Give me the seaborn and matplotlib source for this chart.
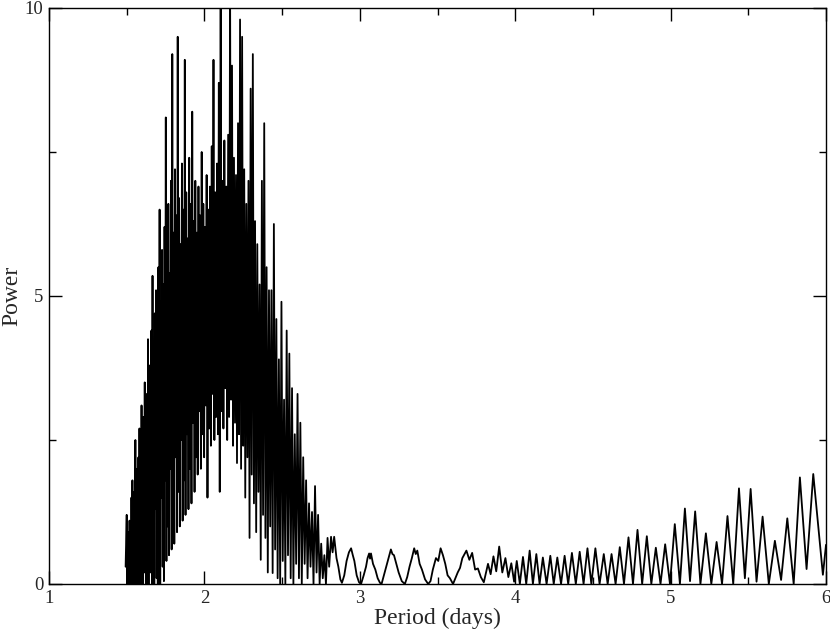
import numpy as np
import pandas as pd
import matplotlib
matplotlib.use("Agg")
import matplotlib.pyplot as plt
import seaborn as sns
from matplotlib.ticker import MultipleLocator

# ---------------- data ----------------
# Dense part of the periodogram: peaks and troughs sampled on the
# periodogram's uniform frequency grid starting at period 1.50 d.
DENSE_START_PERIOD = 1.50
DENSE_FREQ_STEP = 0.00266
start_period = [1.493]
start_power = [0.3]

dense_peak_power = [
    1.2, 0.5, 0.9, 1.1, 0.7, 1.5, 1.8, 1.0, 1.6, 2.5,
    2.0, 1.4, 2.2, 2.7, 1.9, 3.1, 2.4, 2.9, 3.5, 2.6,
    3.3, 4.25, 3.0, 3.8, 4.4, 5.35, 3.9, 4.7, 5.1, 4.3,
    5.5, 6.5, 4.9, 5.8, 5.2, 6.2, 8.1, 5.6, 6.6, 5.4,
    7.0, 9.2, 6.1, 7.2, 6.4, 9.5, 6.7, 5.9, 7.3, 6.5,
    9.1, 6.8, 6.0, 7.4, 6.6, 8.2, 6.3, 7.0, 6.1, 6.9,
    6.4, 7.5, 6.6, 6.2, 7.1, 6.5, 6.9, 7.6, 9.1, 6.8,
    7.3, 8.7, 10.5, 7.0, 7.7, 6.9, 7.8, 10.5, 9.0, 7.4,
    7.1, 8.0, 9.8, 9.5, 7.2, 6.6, 7.0, 8.6, 9.2, 6.3,
    5.9, 5.2, 7.0, 8.0, 5.5, 5.1, 5.1, 6.25, 4.6, 3.9,
    4.9, 3.2, 4.4, 4.0, 3.4, 2.6, 3.3, 2.8, 2.2, 1.8,
    1.4, 1.25, 1.7, 1.2, 0.7, 0.5, 0.8,
]
dense_trough_power = [
    0.0, 0.1, 0.0, 0.3, 0.0, 0.2, 0.0, 0.4, 0.0, 0.1,
    0.0, 0.5, 0.0, 0.3, 0.0, 0.6, 0.0, 0.2, 0.8, 0.0,
    0.4, 0.0, 1.0, 0.2, 0.0, 0.7, 0.0, 1.3, 0.1, 0.0,
    0.9, 0.0, 1.5, 0.3, 0.05, 1.8, 0.4, 1.0, 0.5, 2.0,
    0.6, 1.4, 0.7, 2.2, 0.9, 1.6, 1.0, 2.5, 1.1, 1.8,
    1.2, 2.6, 1.3, 2.0, 1.4, 2.8, 1.6, 2.2, 1.9, 3.0,
    2.0, 2.6, 2.2, 3.1, 1.5, 2.7, 2.4, 3.3, 2.5, 2.9,
    2.6, 1.6, 3.0, 2.7, 3.4, 2.5, 2.9, 3.2, 2.4, 2.8,
    2.1, 2.6, 2.0, 2.4, 1.5, 2.2, 0.8, 1.9, 1.4, 0.9,
    1.6, 0.42, 1.2, 0.8, 0.2, 1.0, 0.19, 0.6, 0.1, 0.0,
    0.4, 0.0, 0.5, 0.1, 0.0, 0.35, 0.1, 0.0, 0.35, 0.1,
    0.3, 0.0, 0.2, 0.0, 0.1, 0.0, 0.3,
]

# Low humps between 2.8 and 4.2 days
hump_period = [
    2.815, 2.825, 2.835, 2.850, 2.862, 2.875, 2.885, 2.900, 2.915, 2.930,
    2.944, 2.955, 2.965, 2.980, 2.995, 3.008, 3.025, 3.040, 3.050, 3.060,
    3.066, 3.072, 3.085, 3.100, 3.115, 3.130, 3.140, 3.155, 3.170, 3.185,
    3.200, 3.210, 3.220, 3.235, 3.250, 3.270, 3.290, 3.305, 3.320, 3.335,
    3.350, 3.360, 3.370, 3.385, 3.400, 3.420, 3.440, 3.455, 3.470, 3.490,
    3.505, 3.520, 3.535, 3.550, 3.565, 3.580, 3.600, 3.615, 3.630, 3.645,
    3.660, 3.686, 3.705, 3.723, 3.742, 3.760, 3.779, 3.798, 3.825, 3.842,
    3.860, 3.878, 3.897, 3.917, 3.937, 3.956, 3.975, 3.993, 4.010, 4.030,
    4.050, 4.071, 4.093, 4.114, 4.136, 4.157,
]
hump_power = [
    0.82, 0.55, 0.82, 0.45, 0.30, 0.08, 0.02, 0.15, 0.40, 0.55,
    0.62, 0.50, 0.40, 0.15, 0.03, 0.00, 0.15, 0.30, 0.45, 0.53,
    0.44, 0.53, 0.35, 0.25, 0.10, 0.02, 0.00, 0.15, 0.30, 0.45,
    0.60, 0.52, 0.50, 0.35, 0.20, 0.05, 0.00, 0.12, 0.30, 0.45,
    0.62, 0.52, 0.58, 0.35, 0.25, 0.08, 0.00, 0.05, 0.25, 0.45,
    0.40, 0.62, 0.50, 0.35, 0.15, 0.10, 0.00, 0.10, 0.20, 0.28,
    0.45, 0.58, 0.42, 0.54, 0.25, 0.27, 0.12, 0.03, 0.35, 0.17,
    0.48, 0.22, 0.65, 0.20, 0.45, 0.12, 0.36, 0.04, 0.40, 0.00,
    0.47, 0.00, 0.58, 0.00, 0.52, 0.00,
]

# Regular oscillations from 4.2 to 6 days
tail_period = [
    4.178, 4.202, 4.226, 4.248, 4.271, 4.295, 4.318, 4.341, 4.365, 4.390,
    4.415, 4.440, 4.465, 4.490, 4.516, 4.543, 4.570, 4.595, 4.620, 4.646,
    4.673, 4.700, 4.729, 4.758, 4.787, 4.817, 4.847, 4.876, 4.905, 4.935,
    4.965, 4.996, 5.027, 5.060, 5.092, 5.125, 5.158, 5.192, 5.227, 5.262,
    5.296, 5.331, 5.366, 5.403, 5.440, 5.478, 5.515, 5.553, 5.592, 5.632,
    5.671, 5.711, 5.751, 5.792, 5.832, 5.875, 5.918, 5.980, 6.000,
]
tail_power = [
    0.46, 0.00, 0.49, 0.00, 0.46, 0.00, 0.49, 0.00, 0.54, 0.00,
    0.56, 0.00, 0.62, 0.00, 0.62, 0.00, 0.52, 0.00, 0.52, 0.00,
    0.64, 0.00, 0.81, 0.00, 0.94, 0.00, 0.83, 0.00, 0.63, 0.00,
    0.69, 0.00, 1.04, 0.00, 1.31, 0.05, 1.26, 0.00, 0.88, 0.00,
    0.73, 0.00, 1.18, 0.00, 1.66, 0.10, 1.65, 0.04, 1.17, 0.00,
    0.75, 0.07, 1.14, 0.00, 1.85, 0.26, 1.91, 0.16, 0.68,
]

x_limits = (1, 6)
y_limits = (0, 10)
x_label = "Period (days)"
y_label = "Power"

# ---------------- assemble the series ----------------
n_dense = len(dense_peak_power)
f0 = 1.0 / DENSE_START_PERIOD
k = np.arange(n_dense)
peak_period = 1.0 / (f0 - k * DENSE_FREQ_STEP)
trough_period = 1.0 / (f0 - (k + 0.5) * DENSE_FREQ_STEP)
dense_period = np.empty(2 * n_dense)
dense_power = np.empty(2 * n_dense)
dense_period[0::2] = peak_period
dense_period[1::2] = trough_period
dense_power[0::2] = dense_peak_power
dense_power[1::2] = dense_trough_power

assert len(hump_period) == len(hump_power)
assert len(tail_period) == len(tail_power)

period = np.concatenate([start_period, dense_period, hump_period, tail_period])
power = np.concatenate([start_power, dense_power, hump_power, tail_power])
df = pd.DataFrame({"period": period, "power": power})

# ---------------- plot ----------------
sns.set_style("ticks")
plt.rcParams["font.family"] = ["Liberation Serif", "DejaVu Serif"]

fig = plt.figure(figsize=(8.3, 6.33), dpi=100)
ax = fig.add_axes([49 / 830, 49 / 633, 777 / 830, 576 / 633])

sns.lineplot(data=df, x="period", y="power", ax=ax, color="black",
             linewidth=1.3, estimator=None, sort=False)

ax.set_xlim(*x_limits)
ax.set_ylim(*y_limits)
ax.xaxis.set_major_locator(MultipleLocator(1))
ax.xaxis.set_minor_locator(MultipleLocator(0.5))
ax.yaxis.set_major_locator(MultipleLocator(5))
ax.yaxis.set_minor_locator(MultipleLocator(2.5))
ax.tick_params(which="both", direction="in", top=True, right=True,
               width=1.0, color="black", labelsize=13.5, pad=4)
ax.tick_params(which="major", length=9.4)
ax.tick_params(which="minor", length=4.8)
for s in ax.spines.values():
    s.set_linewidth(1.0)
    s.set_color("black")
    s.set_visible(True)

ax.set_xlabel(x_label, fontsize=17, labelpad=1)
ax.set_ylabel(y_label, fontsize=17, labelpad=2)

fig.savefig("out.png", dpi=100)
